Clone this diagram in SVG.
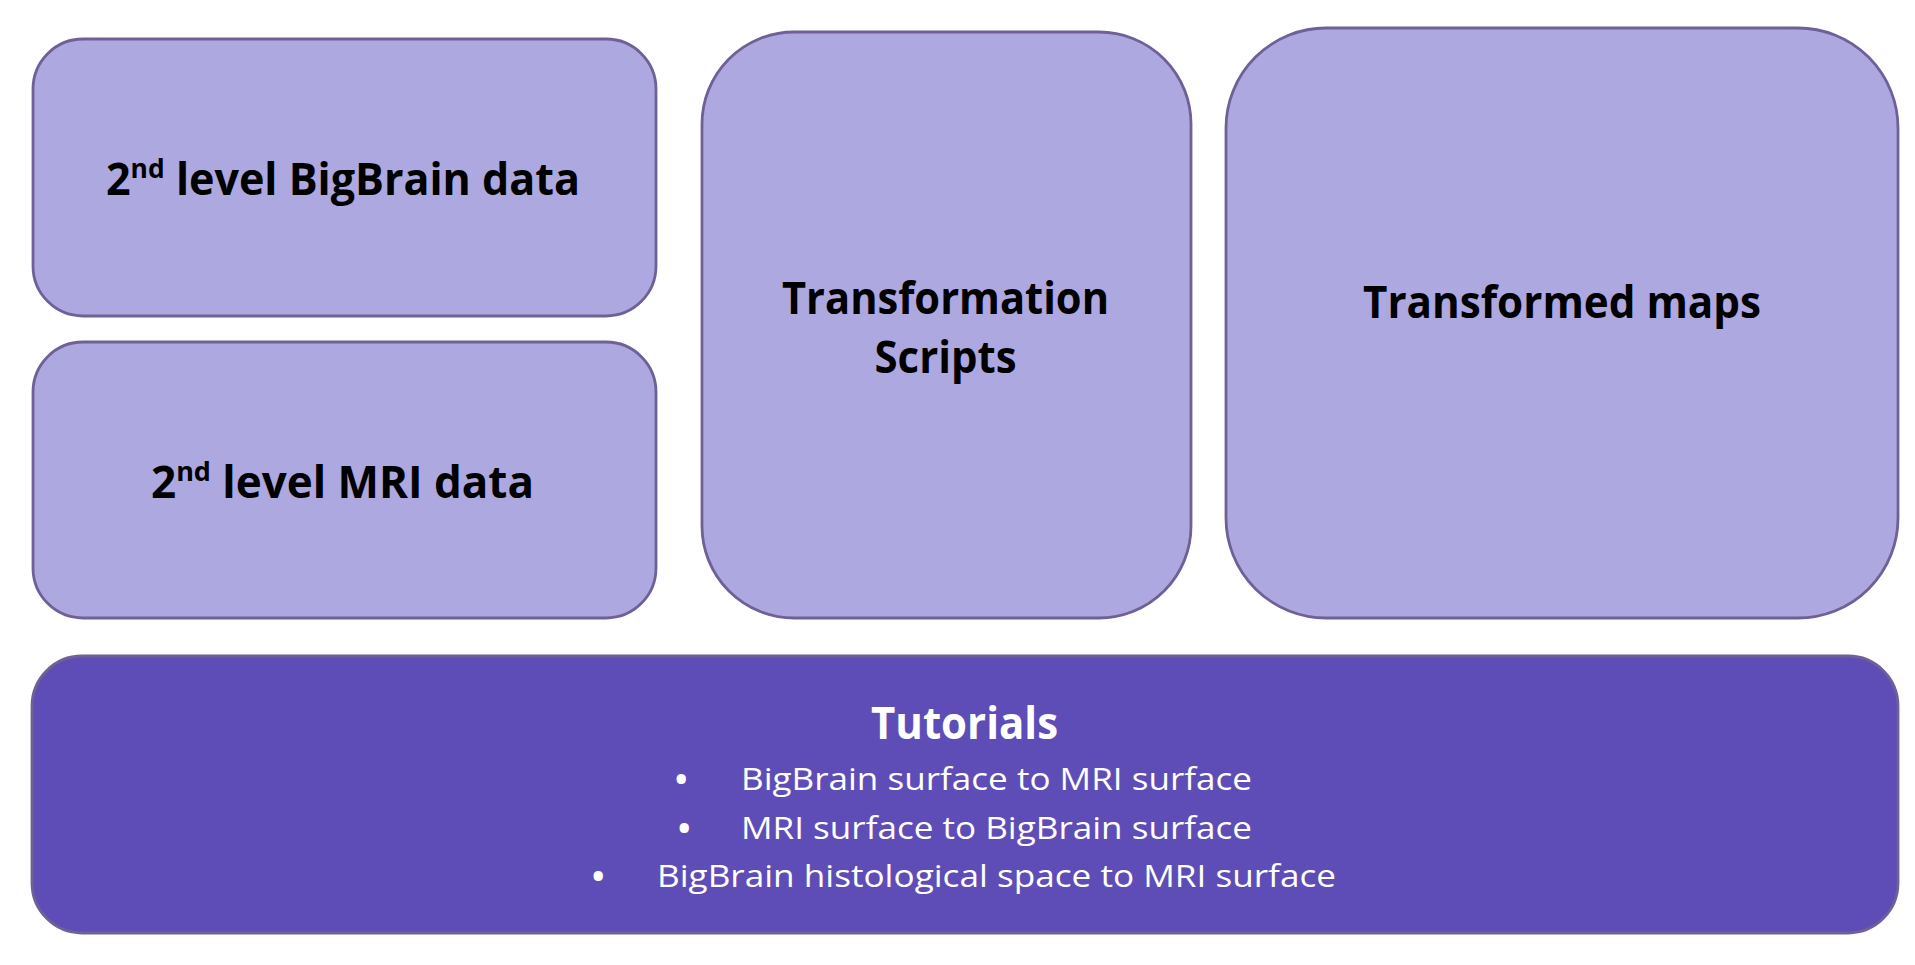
<svg xmlns="http://www.w3.org/2000/svg" width="1915" height="965" viewBox="0 0 1915 965">
<style>
.box{fill:#ADA8E0;stroke:#6F6096;stroke-width:2.8}
.dark{fill:#5E4DB7;stroke:#6F6096;stroke-width:2.8}
.t{font-family:"Open Sans","Noto Sans","Liberation Sans",sans-serif;font-weight:bold;font-size:44px;fill:#000}
.w{font-family:"Open Sans","Noto Sans","Liberation Sans",sans-serif;font-size:31px;fill:#fff}
.bl{font-family:"Open Sans","Noto Sans","Liberation Sans",sans-serif;font-weight:bold;font-size:33px;fill:#fff}
.wb{font-family:"Open Sans","Noto Sans","Liberation Sans",sans-serif;font-weight:bold;font-size:44px;fill:#fff}
</style>
<rect width="1915" height="965" fill="#fff"/>
<g id="bigbrain-data">
<rect class="box" x="33" y="39" width="623" height="277" rx="50"/>
<text class="t" x="106" y="195" textLength="474" lengthAdjust="spacingAndGlyphs">2<tspan font-size="27" dy="-17">nd</tspan><tspan dy="17"> level BigBrain data</tspan></text>
</g>
<g id="mri-data">
<rect class="box" x="33" y="342" width="623" height="276" rx="50"/>
<text class="t" x="151" y="498" textLength="383" lengthAdjust="spacingAndGlyphs">2<tspan font-size="27" dy="-17">nd</tspan><tspan dy="17"> level MRI data</tspan></text>
</g>
<g id="transformation-scripts">
<rect class="box" x="702" y="32" width="489" height="586" rx="92"/>
<text class="t" x="945.5" y="314" text-anchor="middle" textLength="327" lengthAdjust="spacingAndGlyphs">Transformation</text>
<text class="t" x="945.5" y="373" text-anchor="middle" textLength="142" lengthAdjust="spacingAndGlyphs">Scripts</text>
</g>
<g id="transformed-maps">
<rect class="box" x="1226" y="28" width="672" height="590" rx="100"/>
<text class="t" x="1562" y="318" text-anchor="middle" textLength="398" lengthAdjust="spacingAndGlyphs">Transformed maps</text>
</g>
<g id="tutorials">
<rect class="dark" x="32" y="656" width="1866" height="277" rx="50"/>
<text class="wb" x="964.5" y="739" text-anchor="middle" textLength="187" lengthAdjust="spacingAndGlyphs">Tutorials</text>
<text class="bl" x="675" y="791">•</text>
<text class="w" x="741" y="790" textLength="511" lengthAdjust="spacingAndGlyphs">BigBrain surface to MRI surface</text>
<text class="bl" x="678" y="840">•</text>
<text class="w" x="741" y="839" textLength="511" lengthAdjust="spacingAndGlyphs">MRI surface to BigBrain surface</text>
<text class="bl" x="592" y="888">•</text>
<text class="w" x="657" y="887" textLength="679" lengthAdjust="spacingAndGlyphs">BigBrain histological space to MRI surface</text>
</g>
<g id="connectors"></g>
</svg>
